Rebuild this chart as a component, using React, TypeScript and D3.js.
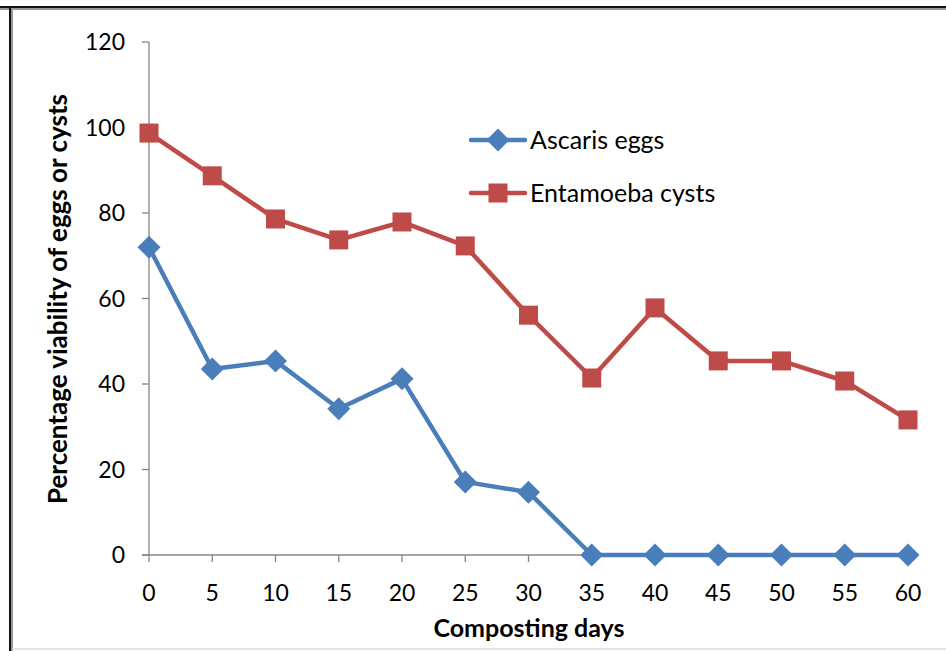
import React from "react";
import * as d3 from "d3";

const days = [0, 5, 10, 15, 20, 25, 30, 35, 40, 45, 50, 55, 60];
const ascaris = [72, 43.5, 45.4, 34.2, 41.2, 17.1, 14.7, 0, 0, 0, 0, 0, 0];
const entamoeba = [98.7, 88.7, 78.6, 73.7, 77.9, 72.3, 56.1, 41.4, 57.8, 45.4, 45.4, 40.7, 31.6];
const yTicks = [0, 20, 40, 60, 80, 100, 120];
const seriesNames = ["Ascaris eggs", "Entamoeba cysts"];
const colors = ["#4a7ebb", "#be4b48"];

export default function App() {
  const W = 946, H = 651;
  const x = d3.scaleLinear().domain([0, 60]).range([149, 908]);
  const y = d3.scaleLinear().domain([0, 120]).range([555, 42]);
  const line = d3.line<number>().x((_, i) => x(days[i])).y((d) => y(d));
  const font = "Lato, 'Open Sans', sans-serif";
  const diamond = (cx: number, cy: number, r: number) =>
    `M${cx},${cy - r}L${cx + r},${cy}L${cx},${cy + r}L${cx - r},${cy}Z`;
  return (
    <svg width={W} height={H} style={{ position: "absolute", left: 0, top: 0 }} fontFamily={font}>
      <rect x={0} y={0} width={W} height={H} fill="#fff" />
      {/* frame */}
      <line x1={0} x2={W} y1={7} y2={7} stroke="#111" strokeWidth={2} />
      <line x1={0} x2={W} y1={9} y2={9} stroke="#999" strokeWidth={2} />
      <line x1={10} x2={10} y1={6} y2={H} stroke="#111" strokeWidth={2} />
      <line x1={12} x2={12} y1={8} y2={H} stroke="#999" strokeWidth={2} />
      <line x1={12} x2={W} y1={649} y2={649} stroke="#ddd" strokeWidth={1.5} />
      {/* axes */}
      <line x1={x(0)} x2={x(0)} y1={y(120)} y2={y(0)} stroke="#868686" strokeWidth={1.3} />
      <line x1={x(0) - 7} x2={x(60)} y1={y(0)} y2={y(0)} stroke="#868686" strokeWidth={1.3} />
      {yTicks.map((t) => (
        <g key={"y" + t}>
          <line x1={x(0) - 7} x2={x(0)} y1={y(t)} y2={y(t)} stroke="#868686" strokeWidth={1.3} />
          <text x={125} y={y(t)} dy="0.36em" textAnchor="end" fontSize={23} fill="#000">{t}</text>
        </g>
      ))}
      {days.map((d) => (
        <g key={"x" + d}>
          <line x1={x(d)} x2={x(d)} y1={y(0)} y2={y(0) + 7} stroke="#868686" strokeWidth={1.3} />
          <text x={x(d)} y={601} textAnchor="middle" fontSize={23} fill="#000">{d}</text>
        </g>
      ))}
      <text x={529} y={637} textAnchor="middle" fontSize={25} fontWeight="bold" fill="#000">Composting days</text>
      <text transform={`translate(67,299) rotate(-90)`} textAnchor="middle" fontSize={26} fontWeight="bold" fill="#000">
        Percentage viability of eggs or cysts
      </text>
      {/* series */}
      <path d={line(entamoeba) || ""} fill="none" stroke={colors[1]} strokeWidth={4.5} strokeLinejoin="round" />
      {entamoeba.map((v, i) => (
        <rect key={"e" + i} x={x(days[i]) - 9.5} y={y(v) - 9.5} width={19} height={19} fill={colors[1]} />
      ))}
      <path d={line(ascaris) || ""} fill="none" stroke={colors[0]} strokeWidth={4.5} strokeLinejoin="round" />
      {ascaris.map((v, i) => (
        <path key={"a" + i} d={diamond(x(days[i]), y(v), 11.5)} fill={colors[0]} />
      ))}
      {/* legend */}
      <line x1={471} x2={525} y1={140} y2={140} stroke={colors[0]} strokeWidth={4.5} strokeLinecap="round" />
      <path d={diamond(498, 140, 11.5)} fill={colors[0]} />
      <text x={530} y={140} dy="0.36em" fontSize={25} fill="#000">{seriesNames[0]}</text>
      <line x1={471} x2={525} y1={193} y2={193} stroke={colors[1]} strokeWidth={4.5} strokeLinecap="round" />
      <rect x={488.5} y={183.5} width={19} height={19} fill={colors[1]} />
      <text x={530} y={193} dy="0.36em" fontSize={25} fill="#000">{seriesNames[1]}</text>
    </svg>
  );
}
